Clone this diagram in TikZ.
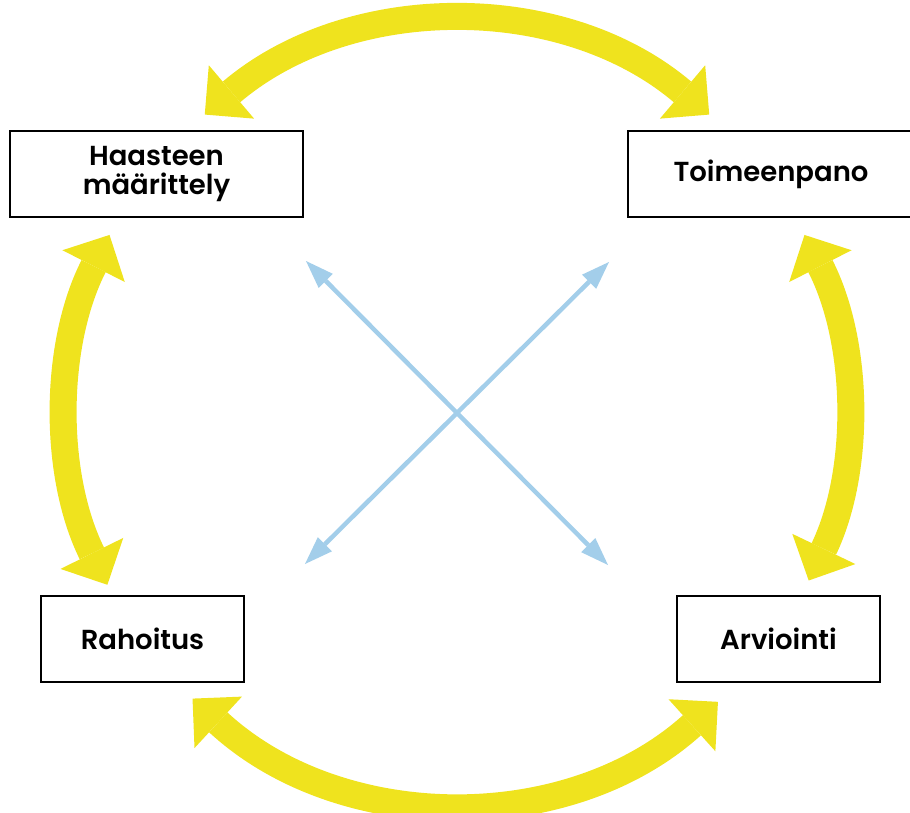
\documentclass[tikz,border=0pt]{standalone}
\usepackage{fontspec}
\setmainfont{Poppins}[UprightFont=* SemiBold]
\usetikzlibrary{arrows.meta}
\definecolor{kelta}{RGB}{239,227,30}
\definecolor{sini}{RGB}{163,206,234}
\tikzset{
  vaihe/.style={draw=black,line width=2.5pt,fill=white,inner sep=0pt,align=center,
    font=\fontsize{27.5}{29}\selectfont,minimum height=86pt},
  kaari/.style={draw=kelta,line width=27pt,
    {Triangle[length=35pt,width=70pt,line width=0pt]}-{Triangle[length=35pt,width=70pt,line width=0pt]}},
  risti/.style={draw=sini,line width=4.5pt,
    {Triangle[length=28pt,width=20pt,line width=0pt]}-{Triangle[length=28pt,width=20pt,line width=0pt]}}
}
\begin{document}
\begin{tikzpicture}[x=1pt,y=1pt]
			\useasboundingbox (-457,-400) rectangle (453,412);
			\coordinate (c) at (0,0);

			\foreach \a/\b in {49.7/130.3,153/206.3,227.3/312,334.4/387} {
				\draw[kaari] ([shift={(\a:390pt)}]c) arc (\a:\b:390pt);
			};

			\coordinate (nv) at (-151,151);
			\coordinate (no) at (152,150);
			\coordinate (av) at (-152,-152);
			\coordinate (ao) at (151,-153);
			\draw[risti] (nv) -- (ao);
			\draw[risti] (no) -- (av);

			\node[vaihe,minimum width=293pt] (haaste) at (-300.5,238) {Haasteen\\määrittely};
			\node[vaihe,minimum width=286pt] (toimeenpano) at (314,238) {Toimeenpano};
			\node[vaihe,minimum width=203pt] (rahoitus) at (-314.5,-227) {Rahoitus};
			\node[vaihe,minimum width=203pt] (arviointi) at (321.5,-227) {Arviointi};
		\end{tikzpicture}
\end{document}
